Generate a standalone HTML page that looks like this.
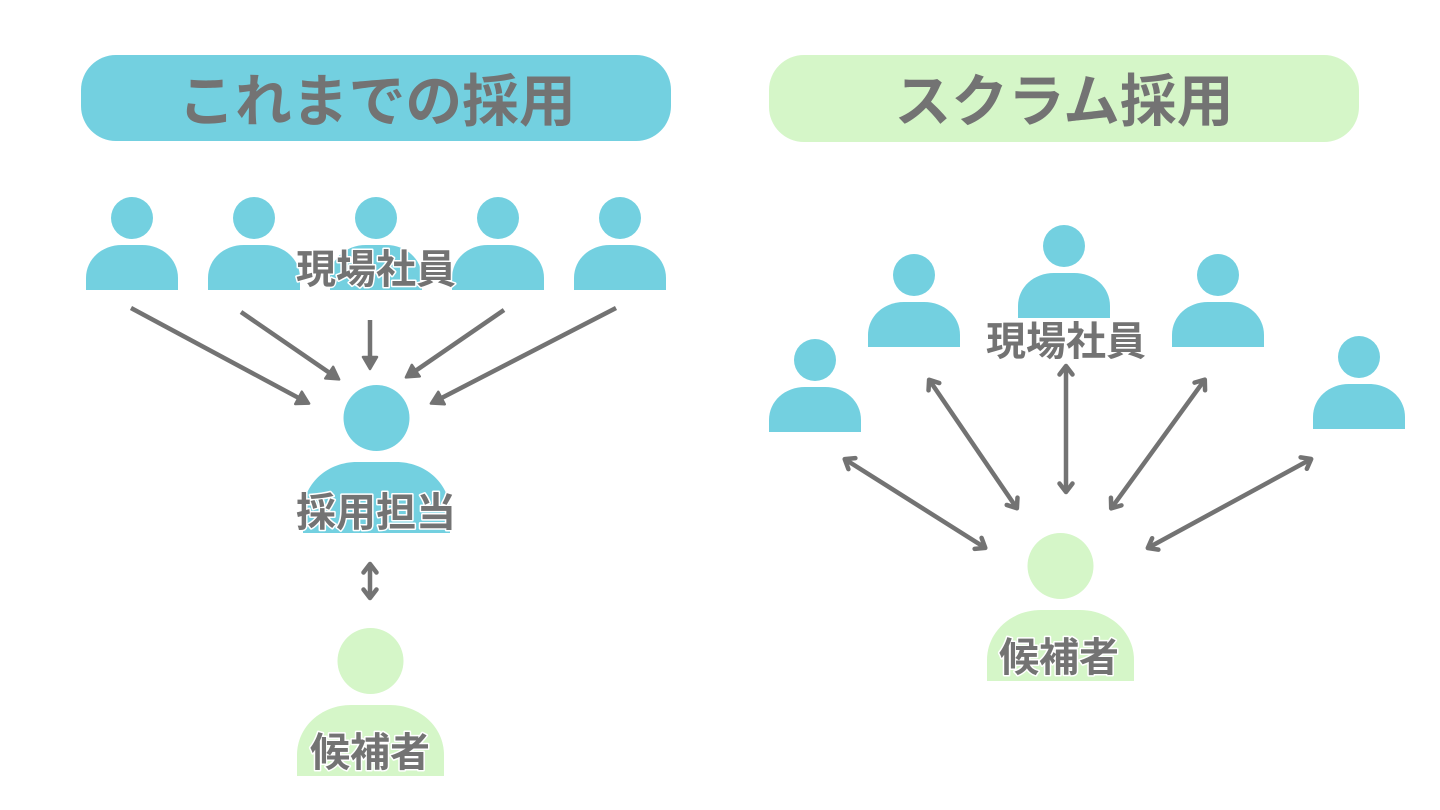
<!DOCTYPE html>
<html lang="ja">
<head>
<meta charset="utf-8">
<title>これまでの採用とスクラム採用</title>
<style>
html,body{margin:0;padding:0;background:#fff;width:1440px;height:810px;overflow:hidden}
svg{display:block}
text{font-family:"Liberation Sans","Noto Sans CJK JP",sans-serif;font-weight:700;fill:#737373;text-anchor:middle}
.t{font-size:56.8px}
.l{font-size:40px;stroke:#fff;stroke-width:3px;paint-order:stroke fill;stroke-linejoin:round}
.a{stroke:#737373;stroke-width:4.5;fill:none}
</style>
</head>
<body>
<svg width="1440" height="810" viewBox="0 0 1440 810" xmlns="http://www.w3.org/2000/svg">
<defs>
<g id="sp">
<circle cx="46" cy="-27" r="21"/>
<path d="M0 45V33C0 14 16 0 36 0H56C76 0 92 14 92 33V45Z"/>
</g>
<g id="lp">
<circle cx="73.5" cy="-44" r="33"/>
<path d="M0 71V50C0 22 24 0 54 0H93C123 0 147 22 147 50V71Z"/>
</g>
<marker id="tri" markerUnits="userSpaceOnUse" markerWidth="24" markerHeight="24" refX="10" refY="10" orient="auto" overflow="visible">
<path d="M3 3L15 10L3 17Z" fill="#737373" stroke="#737373" stroke-width="2.5" stroke-linejoin="round"/>
</marker>
<marker id="che" markerUnits="userSpaceOnUse" markerWidth="20" markerHeight="20" refX="14" refY="9" orient="auto" overflow="visible">
<path d="M5.5 2.5L14 9L5.5 15.5" fill="none" stroke="#737373" stroke-width="4.5" stroke-linecap="round" stroke-linejoin="round"/>
</marker>
<marker id="ches" markerUnits="userSpaceOnUse" markerWidth="20" markerHeight="20" refX="6" refY="9" orient="auto" overflow="visible">
<path d="M14.5 2.5L6 9L14.5 15.5" fill="none" stroke="#737373" stroke-width="4.5" stroke-linecap="round" stroke-linejoin="round"/>
</marker>
</defs>

<rect x="81" y="55" width="590" height="86" rx="35" fill="#73d0e0"/>
<rect x="769" y="55" width="590" height="87" rx="35" fill="#d5f6c8"/>
<text class="t" x="377" y="121">これまでの採用</text>
<text class="t" x="1064" y="121">スクラム採用</text>

<g fill="#73d0e0">
<use href="#sp" x="86" y="245"/>
<use href="#sp" x="208" y="245"/>
<use href="#sp" x="330" y="245"/>
<use href="#sp" x="452" y="245"/>
<use href="#sp" x="574" y="245"/>
<use href="#lp" x="303" y="462"/>
<use href="#sp" x="769" y="387"/>
<use href="#sp" x="868" y="302"/>
<use href="#sp" x="1018" y="273"/>
<use href="#sp" x="1172" y="302"/>
<use href="#sp" x="1313" y="384"/>
</g>
<g fill="#d5f6c8">
<use href="#lp" x="297" y="705"/>
<use href="#lp" x="987" y="610"/>
</g>

<g class="a">
<line x1="131" y1="308" x2="304.7" y2="401.2" marker-end="url(#tri)"/>
<line x1="241" y1="312" x2="335" y2="376.6" marker-end="url(#tri)"/>
<line x1="370" y1="320" x2="370" y2="364" marker-end="url(#tri)"/>
<line x1="504" y1="310" x2="410" y2="374.6" marker-end="url(#tri)"/>
<line x1="616" y1="308" x2="435.3" y2="401.2" marker-end="url(#tri)"/>
<line x1="370" y1="564" x2="370" y2="598" marker-start="url(#ches)" marker-end="url(#che)"/>
<line x1="844.7" y1="459.1" x2="985.3" y2="547.9" marker-start="url(#ches)" marker-end="url(#che)"/>
<line x1="929.1" y1="379.7" x2="1016.9" y2="508.3" marker-start="url(#ches)" marker-end="url(#che)"/>
<line x1="1066" y1="366" x2="1066" y2="492" marker-start="url(#ches)" marker-end="url(#che)"/>
<line x1="1204.8" y1="379.6" x2="1111.2" y2="508.4" marker-start="url(#ches)" marker-end="url(#che)"/>
<line x1="1311.2" y1="459" x2="1147.8" y2="548" marker-start="url(#ches)" marker-end="url(#che)"/>
</g>

<text class="l" x="376" y="283">現場社員</text>
<text class="l" x="376" y="526">採用担当</text>
<text class="l" x="370" y="766">候補者</text>
<text class="l" x="1066" y="355">現場社員</text>
<text class="l" x="1059" y="671">候補者</text>
</svg>
</body>
</html>
